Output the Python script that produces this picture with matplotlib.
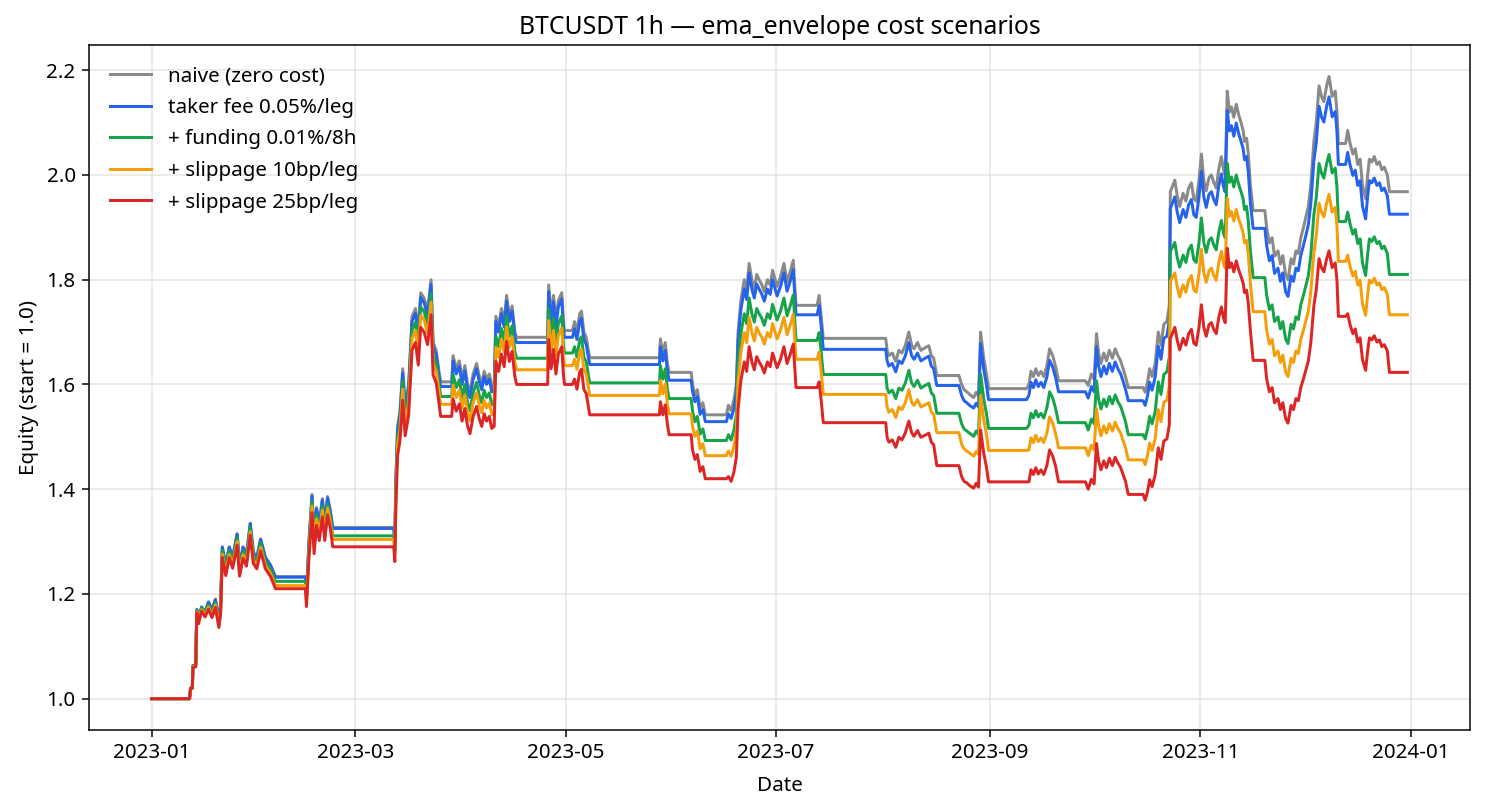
import numpy as np
import pandas as pd
import matplotlib
matplotlib.use("Agg")
import matplotlib.pyplot as plt
import matplotlib.dates as mdates

# ---- data: days since 2023-01-01 and equity per scenario ----
days = [
    0, 11.0, 11.3, 11.8,
    12.0, 12.8, 13.1, 13.6, 14.5, 15.5, 16.5, 17.5, 18.5, 19.5, 20.0, 20.5, 21.5, 22.5, 23.5, 24.8, 25.5, 26.5, 27.5, 28.6, 29.5, 30.5, 31.6, 33.0, 34.5, 35.9, 44.6,
    44.9, 45.6, 46.5, 47.1, 47.8, 48.6, 49.5, 50.2, 51.0, 51.8, 52.5, 70.2,
    70.5, 70.8, 71.3, 72.0, 72.8, 73.5, 74.5, 75.5, 76.5, 77.3, 78.0, 79.0, 80.0, 81.0, 81.6, 82.5, 83.3, 83.8, 87.0,
    87.4, 88.3, 89.2, 90.0, 90.8, 91.6, 92.3, 93.2, 94.2, 95.0, 95.7, 96.4, 97.1, 97.9, 98.6, 99.3, 99.8, 100.6, 101.4, 102.2, 102.9, 103.7, 104.5, 105.3, 105.8, 114.8,
    115.1, 115.8, 116.5, 117.2, 117.9, 118.9, 119.4, 119.7, 122.0,
    122.6, 123.3, 124.1, 124.6, 125.3, 126.0, 126.6, 127.0, 147.2,
    147.5, 148.2, 148.9, 149.5, 150.0, 156.4,
    156.8, 157.5, 158.2, 159.0, 159.8, 160.5, 166.6,
    167.2, 168.0, 168.8, 169.5, 170.0, 170.8, 171.8, 172.5, 173.2, 174.0, 174.7, 175.4, 176.1, 176.9, 177.6, 178.5, 179.3, 180.0, 181.3, 182.3, 183.3, 184.2, 185.1, 186.0, 186.5, 186.8, 192.9,
    193.5, 194.1, 194.7, 212.8,
    213.2, 213.7, 214.7, 215.7, 216.6, 217.5, 218.5, 219.5, 220.3, 221.0, 222.0, 223.0, 224.2, 225.3, 226.0, 226.7, 227.6, 234.0,
    234.8, 235.5, 236.3, 237.3, 238.3, 239.0, 239.7, 240.3, 241.2, 242.0, 242.6, 253.6,
    254.3, 254.9, 255.6, 256.3, 257.0, 257.8, 258.6, 259.5, 260.3, 261.2, 262.0, 262.9, 270.7,
    271.5, 272.4, 273.2, 273.9, 274.5, 275.2, 276.0, 276.8, 277.6, 278.5, 279.3, 280.1, 280.9, 281.6, 282.3, 283.1, 287.4,
    288.0, 288.7, 289.3, 290.0, 290.9, 291.8, 292.6, 293.4, 294.3, 295.0,
    295.3, 296.6, 297.3, 298.0, 299.0, 299.8, 300.6, 301.4, 302.1, 302.8, 303.6, 304.3, 305.0, 305.7, 306.5, 307.2, 307.9, 308.6, 309.3, 310.1, 310.7, 311.2,
    311.8, 312.4, 313.0, 313.7, 314.4, 315.1, 315.8, 316.4, 316.8, 317.4, 317.9, 318.5, 319.3, 322.7,
    323.2, 324.0, 324.8, 325.5, 326.5, 327.2, 327.9, 328.7, 329.4, 330.3, 331.0, 331.7, 332.4, 333.1, 333.9, 334.6, 335.3, 336.0, 336.9, 337.6, 338.4, 339.1, 339.8, 340.6, 341.3, 342.2, 343.1, 343.6, 344.0, 346.1,
    346.7, 347.4, 348.2, 348.9, 349.6, 350.3, 351.0, 351.9, 352.5, 353.0, 353.7, 354.4, 355.2, 355.9, 356.6, 357.3, 358.2, 358.8, 364.0,
]

naive = [
    1.0, 1.0, 1.02, 1.02,
    1.063, 1.065, 1.17, 1.15, 1.175, 1.165, 1.185, 1.17, 1.19, 1.152, 1.18, 1.29, 1.255, 1.29, 1.27, 1.315, 1.255, 1.29, 1.275, 1.335, 1.28, 1.27, 1.305, 1.27, 1.255, 1.233, 1.233,
    1.20, 1.30, 1.39, 1.31, 1.365, 1.335, 1.382, 1.335, 1.386, 1.36, 1.327, 1.327,
    1.30, 1.42, 1.52, 1.55, 1.63, 1.56, 1.60, 1.73, 1.745, 1.70, 1.775, 1.765, 1.74, 1.80, 1.68, 1.665, 1.625, 1.605, 1.605,
    1.655, 1.63, 1.645, 1.61, 1.636, 1.60, 1.585, 1.62, 1.64, 1.615, 1.60, 1.625, 1.61, 1.62, 1.596, 1.60, 1.73, 1.71, 1.745, 1.72, 1.77, 1.73, 1.75, 1.70, 1.69, 1.69,
    1.79, 1.73, 1.77, 1.72, 1.76, 1.775, 1.715, 1.703, 1.703,
    1.72, 1.70, 1.735, 1.74, 1.70, 1.69, 1.665, 1.651, 1.651,
    1.687, 1.66, 1.68, 1.64, 1.623, 1.623,
    1.60, 1.58, 1.59, 1.555, 1.565, 1.542, 1.542,
    1.56, 1.55, 1.57, 1.60, 1.70, 1.76, 1.80, 1.78, 1.831, 1.80, 1.783, 1.81, 1.80, 1.79, 1.777, 1.80, 1.79, 1.818, 1.787, 1.805, 1.831, 1.796, 1.815, 1.837, 1.78, 1.751, 1.751,
    1.77, 1.73, 1.688, 1.688,
    1.665, 1.655, 1.66, 1.644, 1.665, 1.66, 1.675, 1.70, 1.675, 1.668, 1.68, 1.665, 1.67, 1.674, 1.655, 1.65, 1.617, 1.617,
    1.60, 1.59, 1.586, 1.58, 1.575, 1.585, 1.578, 1.70, 1.65, 1.62, 1.592, 1.592,
    1.60, 1.625, 1.615, 1.63, 1.617, 1.625, 1.615, 1.635, 1.668, 1.655, 1.635, 1.607, 1.607,
    1.598, 1.62, 1.61, 1.697, 1.66, 1.64, 1.66, 1.645, 1.665, 1.65, 1.668, 1.655, 1.645, 1.63, 1.615, 1.594, 1.594,
    1.585, 1.605, 1.63, 1.615, 1.64, 1.70, 1.675, 1.715, 1.72, 1.75,
    1.968, 1.99, 1.96, 1.94, 1.965, 1.95, 1.975, 1.985, 1.955, 1.95, 1.99, 2.04, 1.99, 1.97, 1.995, 2.0, 1.985, 1.975, 2.01, 2.035, 2.01, 2.0,
    2.16, 2.12, 2.13, 2.11, 2.135, 2.115, 2.10, 2.085, 2.064, 2.07, 2.04, 1.98, 1.932, 1.932,
    1.90, 1.87, 1.88, 1.845, 1.855, 1.83, 1.846, 1.81, 1.80, 1.84, 1.83, 1.855, 1.85, 1.88, 1.90, 1.92, 1.94, 1.98, 2.064, 2.10, 2.17, 2.15, 2.14, 2.17, 2.188, 2.15, 2.16, 2.12, 2.06, 2.06,
    2.085, 2.06, 2.04, 2.05, 2.02, 2.03, 1.98, 1.955, 2.0, 2.03, 2.025, 2.035, 2.02, 2.025, 2.01, 2.015, 2.0, 1.968, 1.968,
]

taker_fee = [
    1.0, 1.0, 1.02, 1.02,
    1.063, 1.065, 1.17, 1.15, 1.175, 1.165, 1.184, 1.169, 1.189, 1.151, 1.179, 1.289, 1.254, 1.289, 1.269, 1.314, 1.254, 1.289, 1.274, 1.334, 1.279, 1.269, 1.304, 1.269, 1.254, 1.232, 1.232,
    1.198, 1.297, 1.387, 1.307, 1.362, 1.332, 1.379, 1.332, 1.383, 1.357, 1.325, 1.325,
    1.297, 1.413, 1.512, 1.542, 1.622, 1.552, 1.592, 1.721, 1.736, 1.692, 1.766, 1.756, 1.731, 1.791, 1.672, 1.657, 1.617, 1.596, 1.596,
    1.645, 1.620, 1.635, 1.600, 1.626, 1.590, 1.575, 1.610, 1.630, 1.605, 1.590, 1.615, 1.600, 1.610, 1.586, 1.590, 1.720, 1.700, 1.735, 1.710, 1.759, 1.720, 1.740, 1.690, 1.680, 1.680,
    1.777, 1.718, 1.758, 1.708, 1.748, 1.763, 1.703, 1.690, 1.690,
    1.706, 1.686, 1.721, 1.726, 1.686, 1.676, 1.652, 1.638, 1.638,
    1.672, 1.645, 1.665, 1.625, 1.608, 1.608,
    1.587, 1.567, 1.577, 1.543, 1.552, 1.529, 1.529,
    1.544, 1.535, 1.554, 1.584, 1.683, 1.742, 1.782, 1.762, 1.813, 1.782, 1.765, 1.792, 1.782, 1.772, 1.759, 1.782, 1.772, 1.800, 1.769, 1.787, 1.813, 1.778, 1.797, 1.819, 1.762, 1.733, 1.733,
    1.751, 1.711, 1.667, 1.667,
    1.645, 1.635, 1.640, 1.624, 1.645, 1.640, 1.655, 1.680, 1.655, 1.648, 1.660, 1.645, 1.650, 1.654, 1.635, 1.630, 1.598, 1.598,
    1.579, 1.569, 1.565, 1.559, 1.555, 1.564, 1.557, 1.678, 1.629, 1.599, 1.571, 1.571,
    1.579, 1.604, 1.594, 1.609, 1.596, 1.604, 1.594, 1.614, 1.646, 1.633, 1.614, 1.586, 1.586,
    1.574, 1.596, 1.586, 1.672, 1.635, 1.615, 1.635, 1.620, 1.640, 1.625, 1.643, 1.630, 1.620, 1.606, 1.591, 1.569, 1.569,
    1.560, 1.579, 1.604, 1.589, 1.614, 1.673, 1.648, 1.688, 1.692, 1.722,
    1.936, 1.958, 1.929, 1.909, 1.934, 1.919, 1.943, 1.953, 1.924, 1.919, 1.958, 2.007, 1.958, 1.938, 1.963, 1.968, 1.953, 1.943, 1.978, 2.002, 1.978, 1.968,
    2.123, 2.084, 2.094, 2.074, 2.099, 2.079, 2.064, 2.050, 2.029, 2.035, 2.005, 1.946, 1.898, 1.898,
    1.866, 1.836, 1.846, 1.812, 1.822, 1.797, 1.813, 1.777, 1.768, 1.807, 1.797, 1.822, 1.817, 1.846, 1.866, 1.885, 1.905, 1.944, 2.027, 2.062, 2.131, 2.111, 2.101, 2.131, 2.149, 2.111, 2.121, 2.082, 2.020, 2.020,
    2.043, 2.019, 1.999, 2.009, 1.980, 1.989, 1.940, 1.916, 1.960, 1.989, 1.985, 1.994, 1.980, 1.985, 1.970, 1.975, 1.960, 1.925, 1.925,
]

funding = [
    1.0, 1.0, 1.02, 1.02,
    1.062, 1.064, 1.169, 1.149, 1.174, 1.164, 1.179, 1.164, 1.184, 1.146, 1.173, 1.283, 1.248, 1.283, 1.262, 1.307, 1.247, 1.282, 1.267, 1.327, 1.272, 1.262, 1.297, 1.262, 1.247, 1.224, 1.224,
    1.190, 1.287, 1.376, 1.297, 1.351, 1.322, 1.368, 1.322, 1.372, 1.346, 1.311, 1.311,
    1.283, 1.399, 1.497, 1.527, 1.606, 1.537, 1.576, 1.704, 1.719, 1.675, 1.748, 1.739, 1.714, 1.773, 1.655, 1.640, 1.601, 1.577, 1.577,
    1.619, 1.594, 1.609, 1.575, 1.600, 1.565, 1.550, 1.584, 1.604, 1.579, 1.565, 1.589, 1.575, 1.584, 1.561, 1.565, 1.692, 1.672, 1.707, 1.682, 1.731, 1.692, 1.712, 1.663, 1.650, 1.650,
    1.745, 1.687, 1.726, 1.677, 1.716, 1.731, 1.672, 1.660, 1.660,
    1.672, 1.652, 1.686, 1.691, 1.652, 1.643, 1.618, 1.603, 1.603,
    1.636, 1.610, 1.630, 1.591, 1.573, 1.573,
    1.549, 1.529, 1.539, 1.505, 1.515, 1.493, 1.493,
    1.504, 1.494, 1.513, 1.542, 1.639, 1.697, 1.735, 1.716, 1.765, 1.735, 1.719, 1.745, 1.735, 1.726, 1.713, 1.735, 1.726, 1.753, 1.723, 1.740, 1.765, 1.731, 1.750, 1.771, 1.716, 1.684, 1.684,
    1.699, 1.661, 1.619, 1.619,
    1.593, 1.584, 1.589, 1.573, 1.593, 1.589, 1.603, 1.627, 1.603, 1.596, 1.608, 1.593, 1.598, 1.602, 1.584, 1.579, 1.545, 1.545,
    1.525, 1.515, 1.511, 1.506, 1.501, 1.511, 1.504, 1.620, 1.572, 1.544, 1.516, 1.516,
    1.522, 1.545, 1.536, 1.550, 1.538, 1.545, 1.536, 1.555, 1.586, 1.574, 1.555, 1.527, 1.527,
    1.513, 1.534, 1.525, 1.607, 1.572, 1.553, 1.572, 1.558, 1.577, 1.563, 1.580, 1.567, 1.558, 1.544, 1.529, 1.504, 1.504,
    1.496, 1.515, 1.539, 1.525, 1.548, 1.605, 1.581, 1.619, 1.624, 1.652,
    1.854, 1.871, 1.842, 1.824, 1.847, 1.833, 1.857, 1.866, 1.838, 1.833, 1.871, 1.918, 1.871, 1.852, 1.875, 1.880, 1.866, 1.857, 1.889, 1.913, 1.889, 1.880,
    2.022, 1.986, 1.996, 1.977, 2.000, 1.982, 1.968, 1.954, 1.934, 1.940, 1.911, 1.855, 1.804, 1.804,
    1.771, 1.743, 1.752, 1.720, 1.729, 1.706, 1.720, 1.687, 1.678, 1.715, 1.706, 1.729, 1.724, 1.752, 1.771, 1.789, 1.808, 1.845, 1.924, 1.957, 2.022, 2.004, 1.994, 2.022, 2.039, 2.004, 2.013, 1.976, 1.911, 1.911,
    1.929, 1.906, 1.887, 1.896, 1.869, 1.878, 1.832, 1.808, 1.850, 1.878, 1.873, 1.882, 1.869, 1.873, 1.859, 1.864, 1.850, 1.810, 1.810,
]

slip10 = [
    1.0, 1.0, 1.02, 1.02,
    1.061, 1.062, 1.166, 1.146, 1.170, 1.159, 1.175, 1.159, 1.179, 1.141, 1.167, 1.276, 1.241, 1.275, 1.255, 1.300, 1.240, 1.275, 1.260, 1.319, 1.265, 1.255, 1.289, 1.254, 1.239, 1.216, 1.216,
    1.183, 1.279, 1.368, 1.289, 1.343, 1.314, 1.360, 1.314, 1.364, 1.338, 1.304, 1.304,
    1.276, 1.386, 1.484, 1.513, 1.591, 1.523, 1.562, 1.688, 1.703, 1.659, 1.732, 1.723, 1.698, 1.757, 1.640, 1.625, 1.586, 1.562, 1.562,
    1.599, 1.575, 1.589, 1.555, 1.580, 1.546, 1.531, 1.565, 1.584, 1.560, 1.546, 1.570, 1.555, 1.565, 1.542, 1.546, 1.671, 1.652, 1.686, 1.662, 1.710, 1.671, 1.691, 1.642, 1.628, 1.628,
    1.722, 1.664, 1.703, 1.655, 1.693, 1.708, 1.650, 1.636, 1.636,
    1.648, 1.629, 1.662, 1.667, 1.629, 1.619, 1.595, 1.579, 1.579,
    1.608, 1.582, 1.601, 1.563, 1.544, 1.544,
    1.520, 1.501, 1.511, 1.477, 1.487, 1.464, 1.464,
    1.473, 1.463, 1.482, 1.510, 1.605, 1.661, 1.699, 1.680, 1.728, 1.699, 1.683, 1.709, 1.699, 1.690, 1.677, 1.699, 1.690, 1.716, 1.687, 1.704, 1.728, 1.695, 1.713, 1.734, 1.680, 1.648, 1.648,
    1.662, 1.624, 1.581, 1.581,
    1.557, 1.547, 1.552, 1.537, 1.557, 1.552, 1.566, 1.590, 1.566, 1.560, 1.571, 1.557, 1.561, 1.565, 1.547, 1.543, 1.508, 1.508,
    1.486, 1.477, 1.473, 1.468, 1.463, 1.472, 1.466, 1.579, 1.533, 1.505, 1.474, 1.474,
    1.475, 1.498, 1.489, 1.503, 1.491, 1.498, 1.489, 1.507, 1.538, 1.526, 1.507, 1.479, 1.479,
    1.464, 1.484, 1.475, 1.554, 1.521, 1.502, 1.521, 1.507, 1.525, 1.511, 1.528, 1.516, 1.507, 1.493, 1.479, 1.456, 1.456,
    1.447, 1.465, 1.488, 1.474, 1.497, 1.552, 1.529, 1.566, 1.570, 1.598,
    1.797, 1.813, 1.786, 1.767, 1.790, 1.776, 1.799, 1.808, 1.781, 1.776, 1.813, 1.858, 1.813, 1.795, 1.817, 1.822, 1.808, 1.799, 1.831, 1.854, 1.831, 1.822,
    1.955, 1.921, 1.930, 1.912, 1.934, 1.916, 1.903, 1.889, 1.870, 1.875, 1.848, 1.794, 1.739, 1.739,
    1.704, 1.677, 1.686, 1.655, 1.664, 1.642, 1.656, 1.624, 1.615, 1.650, 1.642, 1.664, 1.659, 1.686, 1.704, 1.722, 1.740, 1.776, 1.851, 1.884, 1.946, 1.929, 1.920, 1.946, 1.963, 1.929, 1.938, 1.902, 1.835, 1.835,
    1.847, 1.825, 1.807, 1.816, 1.790, 1.799, 1.754, 1.732, 1.772, 1.799, 1.794, 1.803, 1.790, 1.794, 1.781, 1.785, 1.772, 1.733, 1.733,
]

slip25 = [
    1.0, 1.0, 1.02, 1.02,
    1.060, 1.061, 1.164, 1.143, 1.167, 1.156, 1.171, 1.155, 1.174, 1.136, 1.161, 1.270, 1.235, 1.269, 1.249, 1.293, 1.234, 1.268, 1.253, 1.312, 1.258, 1.248, 1.282, 1.248, 1.233, 1.210, 1.210,
    1.176, 1.268, 1.355, 1.277, 1.331, 1.302, 1.347, 1.302, 1.351, 1.326, 1.290, 1.290,
    1.262, 1.367, 1.464, 1.493, 1.570, 1.502, 1.541, 1.666, 1.680, 1.637, 1.709, 1.700, 1.676, 1.733, 1.618, 1.603, 1.565, 1.539, 1.539,
    1.572, 1.549, 1.563, 1.530, 1.554, 1.520, 1.506, 1.539, 1.558, 1.534, 1.520, 1.544, 1.530, 1.539, 1.516, 1.520, 1.644, 1.625, 1.658, 1.634, 1.682, 1.644, 1.663, 1.615, 1.600, 1.600,
    1.686, 1.630, 1.667, 1.620, 1.658, 1.672, 1.616, 1.600, 1.600,
    1.610, 1.591, 1.624, 1.629, 1.591, 1.582, 1.558, 1.542, 1.542,
    1.567, 1.542, 1.561, 1.524, 1.504, 1.504,
    1.475, 1.457, 1.466, 1.434, 1.443, 1.420, 1.420,
    1.424, 1.415, 1.433, 1.461, 1.552, 1.607, 1.643, 1.625, 1.672, 1.643, 1.628, 1.653, 1.643, 1.634, 1.622, 1.643, 1.634, 1.660, 1.632, 1.648, 1.672, 1.640, 1.657, 1.677, 1.625, 1.594, 1.594,
    1.605, 1.569, 1.527, 1.527,
    1.499, 1.490, 1.494, 1.480, 1.499, 1.494, 1.508, 1.530, 1.508, 1.501, 1.512, 1.499, 1.503, 1.507, 1.490, 1.485, 1.445, 1.445,
    1.424, 1.415, 1.412, 1.406, 1.402, 1.411, 1.404, 1.513, 1.469, 1.442, 1.414, 1.414,
    1.414, 1.437, 1.428, 1.441, 1.429, 1.437, 1.428, 1.445, 1.475, 1.463, 1.445, 1.414, 1.414,
    1.400, 1.419, 1.410, 1.487, 1.454, 1.437, 1.454, 1.441, 1.459, 1.445, 1.461, 1.450, 1.441, 1.428, 1.415, 1.390, 1.390,
    1.379, 1.396, 1.418, 1.405, 1.427, 1.479, 1.457, 1.492, 1.496, 1.523,
    1.688, 1.709, 1.684, 1.666, 1.688, 1.675, 1.697, 1.705, 1.679, 1.675, 1.709, 1.752, 1.709, 1.692, 1.714, 1.718, 1.705, 1.697, 1.727, 1.748, 1.727, 1.718,
    1.860, 1.823, 1.832, 1.815, 1.836, 1.819, 1.806, 1.793, 1.775, 1.780, 1.754, 1.703, 1.646, 1.646,
    1.611, 1.586, 1.594, 1.565, 1.573, 1.552, 1.565, 1.535, 1.526, 1.560, 1.552, 1.573, 1.569, 1.594, 1.611, 1.628, 1.645, 1.679, 1.750, 1.781, 1.840, 1.823, 1.815, 1.840, 1.855, 1.823, 1.832, 1.798, 1.730, 1.730,
    1.735, 1.714, 1.697, 1.706, 1.681, 1.689, 1.647, 1.627, 1.664, 1.689, 1.685, 1.693, 1.681, 1.685, 1.672, 1.676, 1.664, 1.623, 1.623,
]

labels = ["naive (zero cost)", "taker fee 0.05%/leg", "+ funding 0.01%/8h",
          "+ slippage 10bp/leg", "+ slippage 25bp/leg"]
colors = ["#8a8a8a", "#2563eb", "#16a34a", "#f59e0b", "#dc2626"]
series = [naive, taker_fee, funding, slip10, slip25]

for s in series:
    assert len(s) == len(days), (len(s), len(days))

dates = pd.Timestamp("2023-01-01") + pd.to_timedelta(np.array(days), unit="D")

plt.rcParams["font.family"] = ["Noto Sans", "DejaVu Sans"]
plt.rcParams["font.size"] = 11

fig, ax = plt.subplots(figsize=(11, 6), dpi=135)
fig.subplots_adjust(left=0.0598, right=0.99, top=0.944, bottom=0.099)

for vals, lab, col in zip(series, labels, colors):
    ax.plot(dates, vals, color=col, lw=1.6, label=lab)

ax.set_title("BTCUSDT 1h — ema_envelope cost scenarios")
ax.set_xlabel("Date", labelpad=7)
ax.set_ylabel("Equity (start = 1.0)")
ax.xaxis.set_major_locator(mdates.MonthLocator(bymonth=[1, 3, 5, 7, 9, 11]))
ax.xaxis.set_major_formatter(mdates.DateFormatter("%Y-%m"))
ax.grid(True, color="#cccccc", alpha=0.5, lw=0.8)
ax.legend(loc="upper left", frameon=False, labelspacing=0.56, borderaxespad=0.62)

fig.savefig("out.png", dpi=135)
